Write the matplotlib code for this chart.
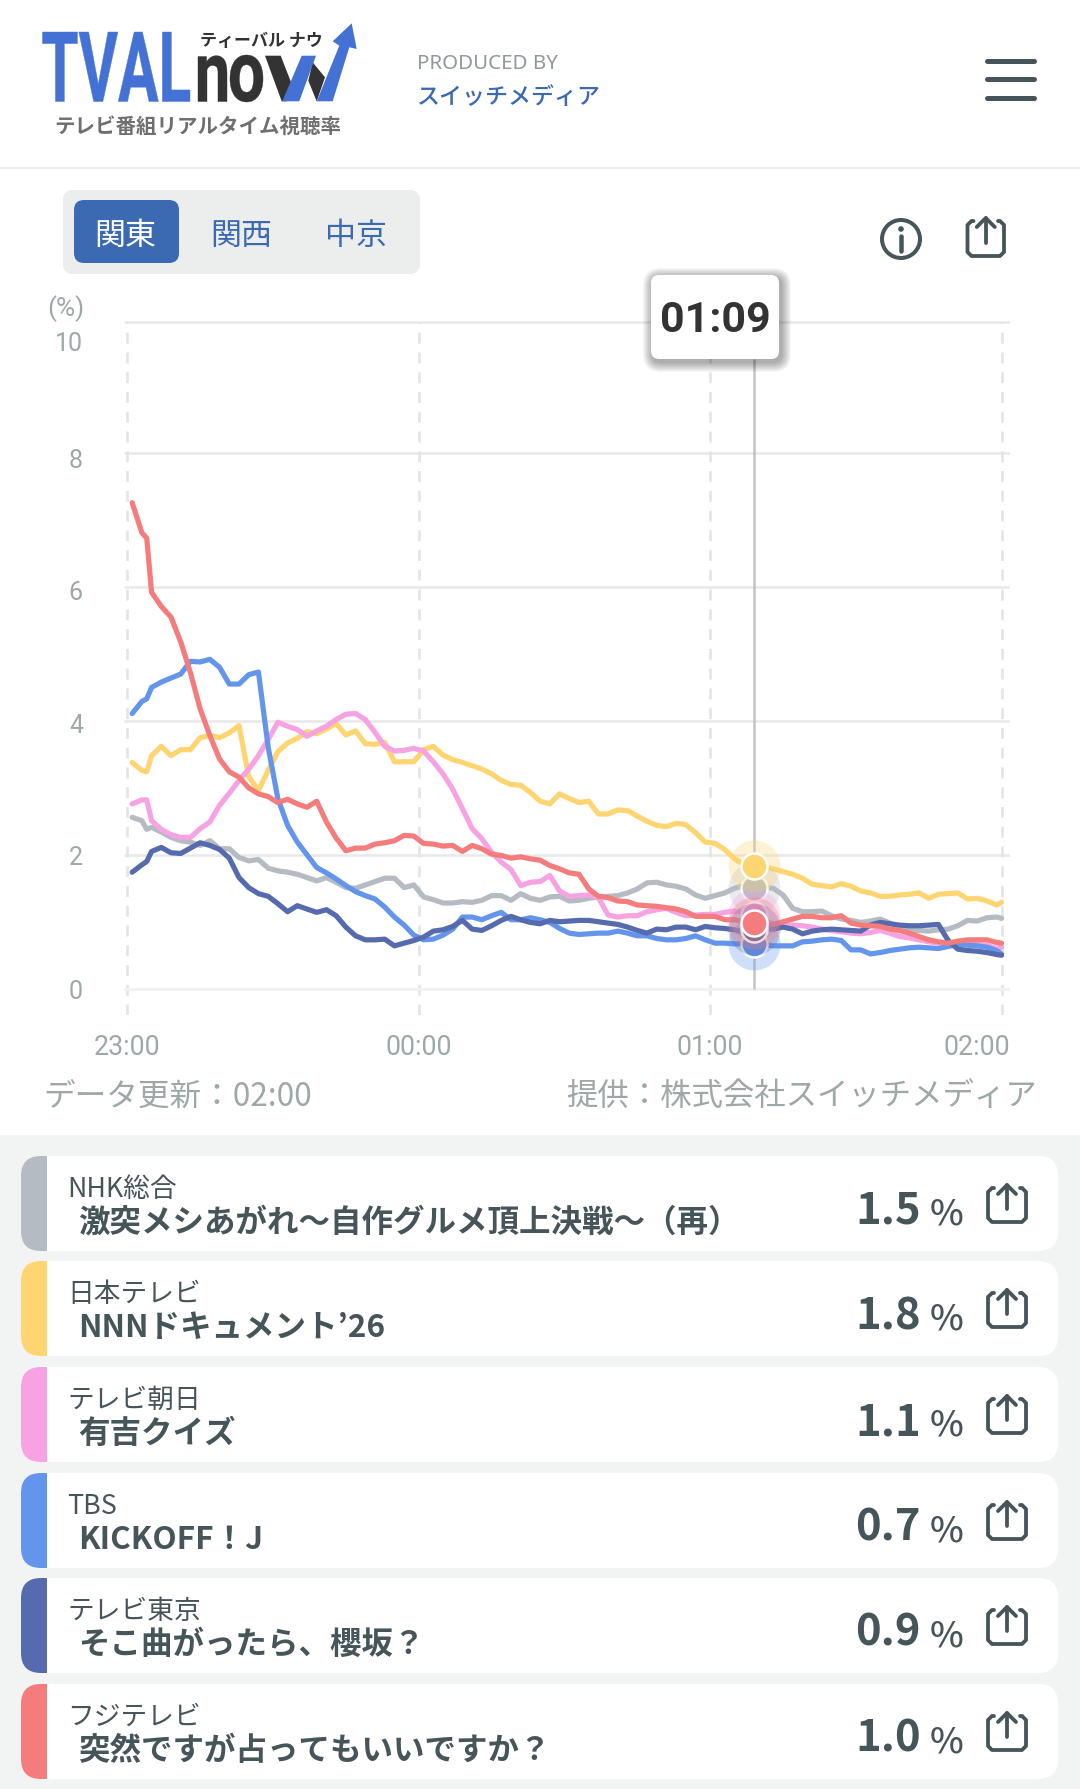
import matplotlib
matplotlib.use("Agg")
import matplotlib.pyplot as plt
from matplotlib.patches import FancyBboxPatch, Rectangle, PathPatch, Polygon, Circle
from matplotlib.textpath import TextPath
from matplotlib.font_manager import FontProperties
from matplotlib.transforms import Affine2D

plt.rcParams['font.family'] = ['Noto Sans CJK JP', 'DejaVu Sans']

W, H = 1080, 1790

minutes = [1, 3, 4, 5] + list(range(7, 180, 2)) + [180]

nhk = [2.56,2.51,2.38,2.41,2.34,2.26,2.21,2.19,2.14,2.21,2.09,2.09,1.96,1.91,1.93,1.80,1.76,1.74,1.71,1.66,1.61,1.66,1.59,1.51,1.50,1.55,1.60,1.65,1.65,1.51,1.55,1.37,1.33,1.28,1.28,1.30,1.29,1.32,1.39,1.39,1.32,1.42,1.35,1.32,1.37,
       1.38,1.31,1.32,1.35,1.37,1.38,1.39,1.43,1.49,1.58,1.59,1.55,1.53,1.49,1.40,1.35,1.39,1.43,1.50,1.54,1.50,1.51,1.50,1.40,1.20,1.15,1.15,1.16,1.09,1.04,1.02,0.99,1.01,1.04,0.98,0.92,0.88,0.87,0.86,0.88,0.89,0.94,1.02,1.01,1.06,1.07,1.05]
ntv = [3.38,3.26,3.24,3.48,3.62,3.48,3.57,3.57,3.75,3.78,3.75,3.82,3.93,3.17,2.96,3.26,3.54,3.67,3.74,3.84,3.81,3.88,3.96,3.79,3.85,3.66,3.65,3.68,3.39,3.39,3.39,3.57,3.62,3.49,3.42,3.38,3.33,3.28,3.21,3.11,3.05,3.04,2.93,2.80,2.76,
       2.91,2.84,2.78,2.80,2.61,2.61,2.67,2.66,2.58,2.50,2.44,2.42,2.47,2.45,2.33,2.19,2.17,2.08,1.94,1.85,1.84,1.83,1.79,1.75,1.71,1.65,1.56,1.54,1.52,1.57,1.53,1.46,1.43,1.38,1.38,1.40,1.41,1.43,1.35,1.41,1.42,1.43,1.34,1.35,1.31,1.25,1.29]
tvasahi = [2.76,2.82,2.82,2.51,2.38,2.30,2.26,2.26,2.39,2.49,2.74,2.92,3.11,3.28,3.48,3.72,3.98,3.92,3.87,3.77,3.85,3.92,4.02,4.10,4.11,4.02,3.83,3.62,3.55,3.56,3.59,3.55,3.39,3.21,2.98,2.69,2.39,2.24,2.04,1.89,1.78,1.54,1.59,1.60,1.69,
           1.46,1.38,1.39,1.40,1.36,1.10,1.07,1.09,1.09,1.15,1.18,1.20,1.14,1.09,1.10,1.11,1.11,1.14,1.16,1.14,1.10,1.01,0.97,0.96,0.95,0.94,0.92,0.89,0.87,0.85,0.83,0.82,0.84,0.87,0.83,0.78,0.76,0.73,0.70,0.68,0.67,0.66,0.66,0.66,0.65,0.60,0.62]
tbs = [4.11,4.29,4.33,4.50,4.58,4.64,4.70,4.89,4.88,4.92,4.80,4.55,4.55,4.69,4.73,3.61,2.84,2.44,2.19,2.00,1.81,1.73,1.64,1.54,1.45,1.39,1.34,1.22,1.07,0.95,0.80,0.73,0.74,0.80,0.89,1.07,1.07,1.03,1.09,1.14,1.03,1.03,1.06,1.03,0.99,
       0.90,0.83,0.81,0.82,0.83,0.83,0.86,0.83,0.79,0.79,0.75,0.73,0.73,0.75,0.79,0.73,0.68,0.68,0.67,0.67,0.67,0.66,0.64,0.64,0.64,0.70,0.71,0.73,0.74,0.72,0.58,0.58,0.52,0.54,0.57,0.59,0.61,0.62,0.61,0.60,0.63,0.66,0.65,0.64,0.62,0.57,0.52]
tvtokyo = [1.74,1.85,1.90,2.05,2.11,2.03,2.02,2.10,2.18,2.14,2.08,1.95,1.66,1.51,1.42,1.38,1.27,1.15,1.24,1.19,1.14,1.18,1.09,0.92,0.79,0.73,0.73,0.74,0.64,0.68,0.72,0.77,0.86,0.88,0.93,1.02,0.89,0.87,0.94,1.02,1.08,1.03,0.99,0.97,1.02,
           1.00,1.01,1.02,1.02,1.00,0.98,0.96,0.92,0.87,0.83,0.89,0.88,0.92,0.92,0.88,0.93,0.91,0.90,0.88,0.84,0.89,0.89,0.89,0.92,0.89,0.82,0.86,0.88,0.89,0.88,0.87,0.86,0.95,0.99,0.97,0.95,0.94,0.94,0.95,0.96,0.72,0.59,0.57,0.56,0.54,0.51,0.50]
fuji = [7.26,6.81,6.73,5.92,5.71,5.55,5.18,4.72,4.18,3.78,3.43,3.24,3.16,3.00,2.91,2.87,2.78,2.83,2.76,2.71,2.80,2.49,2.25,2.06,2.10,2.10,2.16,2.18,2.21,2.29,2.28,2.17,2.16,2.13,2.14,2.05,2.14,2.09,2.01,1.99,1.95,1.97,1.94,1.92,1.84,
        1.79,1.73,1.71,1.49,1.38,1.36,1.31,1.30,1.25,1.24,1.23,1.21,1.19,1.15,1.08,1.08,1.08,1.03,1.03,1.00,0.98,0.94,0.96,1.00,1.04,1.08,1.08,1.06,1.06,1.09,0.98,0.95,0.94,0.93,0.89,0.87,0.83,0.78,0.73,0.70,0.68,0.71,0.73,0.73,0.73,0.69,0.68]

series = [nhk, ntv, tvasahi, tbs, tvtokyo, fuji]
colors = ['#b4bbc3', '#fed571', '#f6a2e3', '#6495ec', '#566bae', '#f47c7c']
channels = ['NHK総合', '日本テレビ', 'テレビ朝日', 'TBS', 'テレビ東京', 'フジテレビ']
programs = ['激突メシあがれ〜自作グルメ頂上決戦〜（再）', 'NNNドキュメント’26', '有吉クイズ',
            'KICKOFF！J', 'そこ曲がったら、櫻坂？', '突然ですが占ってもいいですか？']
ratings = ['1.5', '1.8', '1.1', '0.7', '0.9', '1.0']
cursor_minute = 129
x_ticks = [0, 60, 120, 180]
x_labels = ['23:00', '00:00', '01:00', '02:00']
x_label_shift = [0, 0, 0, -25]
y_ticks = [0, 2, 4, 6, 8, 10]
y_grid = [0, 2, 4, 6, 8, 9.96]
y_label_shift = [0, 0, 2, 3, 4, 21]

INK = '#46555a'
BLUE = '#3b6ab3'
LOGO_BLUE = '#4472d4'
LOGO_DARK = '#333333'
MUTED = '#9ea8a8'


def px(v):
    return v * 0.72


fig = plt.figure(figsize=(W / 100, H / 100), dpi=100, facecolor='white')


def overlay(z):
    a = fig.add_axes([0, 0, 1, 1], zorder=z)
    a.set_xlim(0, W)
    a.set_ylim(H, 0)
    a.axis('off')
    a.patch.set_alpha(0)
    return a


ui = overlay(0)
top = overlay(3)


def rbox(a, x0, y0, x1, y1, r, **kw):
    p = FancyBboxPatch((x0 + r, y0 + r), x1 - x0 - 2 * r, y1 - y0 - 2 * r,
                       boxstyle=f"round,pad={r},rounding_size={r}", **kw)
    a.add_patch(p)
    return p


def fit_text(a, s, x0, y0, x1, y1, color, weight='bold', family='Roboto', z=3):
    tp = TextPath((0, 0), s, size=100, prop=FontProperties(family=family, weight=weight))
    b = tp.get_extents()
    t = Affine2D().translate(-b.x0, -b.y0).scale((x1 - x0) / b.width, -(y1 - y0) / b.height).translate(x0, y1)
    a.add_patch(PathPatch(t.transform_path(tp), fc=color, ec=color, lw=0.3, zorder=z))


def share_icon(a, x0, y0, x1, y1, lw):
    mid = (x0 + x1) / 2
    r = 4
    a.plot([x0 + 6, x0 + r, x0, x0, x0 + r, x1 - r, x1, x1, x1 - r, x1 - 6],
           [y0 + 2, y0 + 2, y0 + 6, y1 - r, y1, y1, y1 - r, y0 + 6, y0 + 2, y0 + 2],
           color=INK, lw=px(lw), solid_capstyle='round', solid_joinstyle='round')
    a.plot([mid, mid], [y0 - 1, y1 - 13], color=INK, lw=px(lw), solid_capstyle='round')
    a.plot([mid - 9, mid, mid + 9], [y0 + 8, y0 - 1, y0 + 8], color=INK, lw=px(lw),
           solid_capstyle='round', solid_joinstyle='round')


# ---- header ----
fit_text(ui, 'TVAL', 42.5, 33, 190, 102.5, LOGO_BLUE)
fit_text(ui, 'n', 198, 56.7, 227, 102.5, LOGO_DARK)
fit_text(ui, 'o', 230, 56, 263, 103, LOGO_DARK)
ui.add_patch(Polygon([(265, 56.7), (280.7, 56.7), (293.3, 89), (286.7, 102.3), (281.7, 102.3)], fc=LOGO_DARK, ec='none', zorder=3))
ui.add_patch(Polygon([(312.7, 63.3), (325, 78.3), (316.7, 102.3), (308.3, 81.7)], fc=LOGO_DARK, ec='none', zorder=3))
ui.add_patch(Polygon([(282.3, 102.3), (299.3, 102.3), (316, 56.7), (301.7, 56.7)], fc=LOGO_BLUE, ec='none', zorder=4))
ui.add_patch(Polygon([(316.7, 102.3), (332.7, 102.3), (349.3, 48.3), (356.7, 50), (351.7, 24.3), (332.7, 42.3), (339.3, 46.7)],
                     fc=LOGO_BLUE, ec='none', zorder=4))
ui.text(200.5, 41, 'ティーバル ナウ', fontsize=px(17), fontweight='bold', color=LOGO_DARK, va='center', ha='left')
ui.text(197.5, 126, 'テレビ番組リアルタイム視聴率', fontsize=px(20.5), fontweight='bold', color='#6f6f6f',
        va='center', ha='center')
ui.text(417, 64, 'PRODUCED BY', fontsize=px(20.5), color='#8f9a9a', va='center', ha='left', family='Noto Sans')
ui.text(417, 97, 'スイッチメディア', fontsize=px(23), fontweight='medium', color=BLUE, va='center', ha='left')
for yy in (62, 80, 99):
    ui.plot([987, 1034], [yy, yy], color=INK, lw=px(5), solid_capstyle='round')
ui.plot([0, W], [169, 169], color='#ececec', lw=px(2))

# ---- region tabs ----
rbox(ui, 63, 191, 420, 275, 10, fc='#eceeee', ec='none')
rbox(ui, 74, 201, 179, 264, 10, fc=BLUE, ec='none')
for cx, label, col in [(125, '関東', 'white'), (241, '関西', BLUE), (356, '中京', BLUE)]:
    ui.text(cx, 236, label, fontsize=px(31), color=col, ha='center', va='center')

# info + share
ui.add_patch(Circle((901, 240), 19, fc='none', ec=INK, lw=px(4)))
ui.add_patch(Circle((901, 230), 2.8, fc=INK, ec='none'))
ui.plot([901, 901], [237, 252], color=INK, lw=px(4.5), solid_capstyle='round')
share_icon(ui, 967.5, 220, 1004, 257, 3.8)

# ---- footer + panel ----
ui.text(43, 1096.5, 'データ更新：02:00', fontsize=px(31.7), color=MUTED, ha='left', va='center')
ui.text(1037, 1096.5, '提供：株式会社スイッチメディア', fontsize=px(31.4), color=MUTED, ha='right', va='center')
ui.add_patch(Rectangle((0, 1136), W, H - 1136, fc='#f2f4f4', ec='none'))

# ---- rows ----
row_tops = [1157, 1262, 1368, 1474, 1579, 1685]
for top_y, col, ch, prog, val in zip(row_tops, colors, channels, programs, ratings):
    box = rbox(ui, 21, top_y, 1058, top_y + 95, 20, fc='white', ec='none')
    band = Rectangle((21, top_y), 26, 95, fc=col, ec='none')
    ui.add_patch(band)
    band.set_clip_path(box)
    ui.text(67, top_y + 32.5, ch, fontsize=px(26.7), color=INK, ha='left', va='center')
    ui.text(78, top_y + 66, prog, fontsize=px(31.5), fontweight='bold', color=INK, ha='left', va='center')
    ui.text(855, top_y + 67, val, fontsize=px(43.5), fontweight='bold', color=INK, ha='left', va='baseline')
    ui.text(930, top_y + 67.5, '%', fontsize=px(36), fontweight='medium', color=INK, ha='left', va='baseline')
    share_icon(ui, 988, top_y + 30, 1026, top_y + 66, 3.8)

# ---- chart ----
x0p, x1p, y0p, y1p = 124, 1010, 316, 1016
X_ZERO, X_PER_MIN, Y_ZERO, Y_PER_UNIT = 127.3, 4.857, 989.7, 66.95
ax = fig.add_axes([x0p / W, 1 - y1p / H, (x1p - x0p) / W, (y1p - y0p) / H], zorder=1)
ax.patch.set_alpha(0)
ax.set_xlim((x0p - X_ZERO) / X_PER_MIN, (x1p - X_ZERO) / X_PER_MIN)
ax.set_ylim((Y_ZERO - y1p) / Y_PER_UNIT, (Y_ZERO - y0p) / Y_PER_UNIT)
for s in ax.spines.values():
    s.set_visible(False)

ax.hlines(y_grid, *ax.get_xlim(), color='#e9e9e9', lw=px(2.6), zorder=1)
ax.hlines([0], *ax.get_xlim(), color='#f2f2f2', lw=px(2.6), zorder=1.1)
ax.vlines(x_ticks, ax.get_ylim()[0], y_grid[-1], color='#e4e4e4', lw=px(2.6), linestyles=(0, (4.2, 3.4)), zorder=1)
ax.vlines([cursor_minute], 0, 9.4, color='#c6c6c6', lw=px(2.6), zorder=2)

for vals, col in zip(series, colors):
    ax.plot(minutes, vals, color=col, lw=px(5.2), solid_joinstyle='round', solid_capstyle='round', zorder=3)

idx = minutes.index(cursor_minute)
for i, (vals, col) in enumerate(zip(series, colors)):
    ax.scatter([cursor_minute], [vals[idx]], s=px(52) ** 2, color=col, alpha=0.3, lw=0, zorder=4 + i * 0.2)
    ax.scatter([cursor_minute], [vals[idx]], s=px(26) ** 2, color=col, edgecolor='white', lw=px(2.5),
               zorder=4.1 + i * 0.2)

ax.set_xticks(x_ticks, x_labels)
ax.set_yticks(y_ticks, [str(v) for v in y_ticks])
ax.tick_params(axis='x', length=0, labelcolor=MUTED, labelsize=px(26.8), pad=px(18))
ax.tick_params(axis='y', length=0, labelcolor=MUTED, labelsize=px(25), pad=px(41))
for lab in ax.get_xticklabels() + ax.get_yticklabels():
    lab.set_family('Roboto')
for lab, shift in zip(ax.get_xticklabels(), x_label_shift):
    lab.set_transform(lab.get_transform() + Affine2D().translate(shift, 0))
for lab, shift in zip(ax.get_yticklabels(), y_label_shift):
    lab.set_transform(lab.get_transform() + Affine2D().translate(0, -shift))
ui.text(65.5, 309, '(%)', fontsize=px(26), color=MUTED, ha='center', va='center', family='Roboto')

# ---- tooltip ----
for g in range(10, 0, -1):
    rbox(top, 651 - g + 2, 276 - g + 3, 779 + g + 2, 360 + g + 3, 8 + g, fc='black', ec='none', alpha=0.036)
rbox(top, 651, 276, 779, 360, 8, fc='white', ec='none')
top.text(715.5, 331.7, '01:09', fontsize=px(43), fontweight='bold', color=LOGO_DARK, ha='center', va='baseline',
         family='Roboto')

fig.savefig('out.png', dpi=100, facecolor='white')
